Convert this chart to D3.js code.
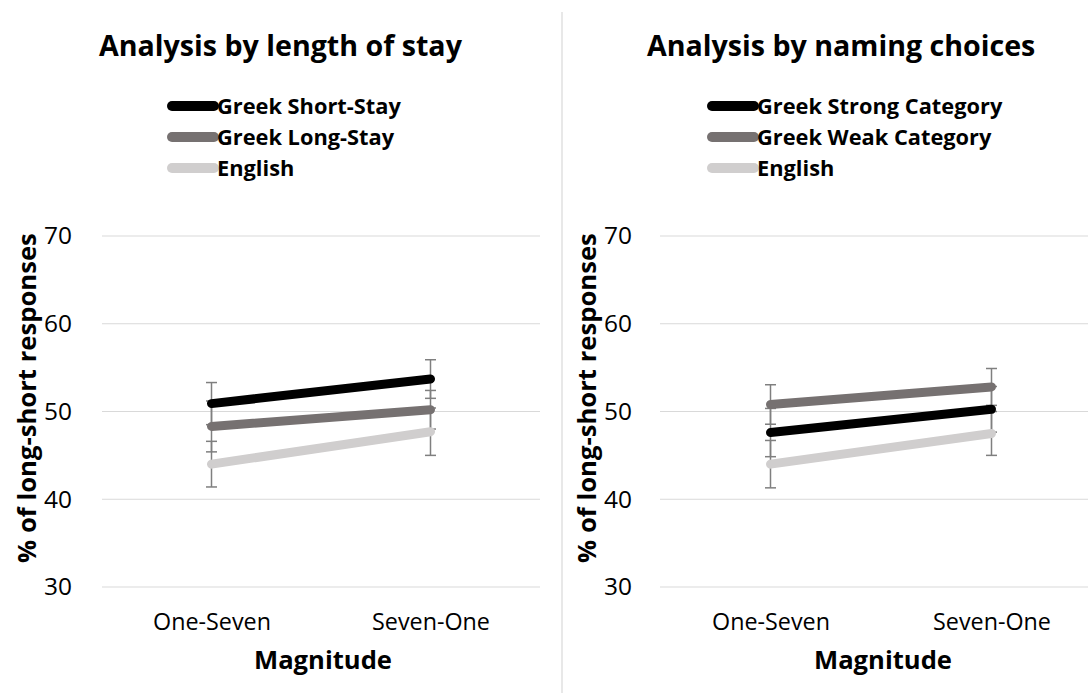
<!DOCTYPE html>
<html>
<head>
<meta charset="utf-8">
<script src="https://cdn.jsdelivr.net/npm/d3@7"></script>
<style>
  html, body { margin: 0; padding: 0; background: #fff; }
  svg { display: block; font-family: "Open Sans", "Lato", sans-serif; }
</style>
</head>
<body>
<svg id="chart" width="1088" height="693"></svg>
<script>
// ---------- data ----------
const categories = ["One-Seven", "Seven-One"];
const yTicks = [30, 40, 50, 60, 70];

const leftTitle = "Analysis by length of stay";
const leftNames = ["Greek Short-Stay", "Greek Long-Stay", "English"];
const leftShortStay = [50.9, 53.7];
const leftShortStayErr = [2.4, 2.2];
const leftLongStay = [48.3, 50.2];
const leftLongStayErr = [2.9, 2.2];
const leftEnglish = [44.0, 47.7];
const leftEnglishErr = [2.6, 2.7];

const rightTitle = "Analysis by naming choices";
const rightNames = ["Greek Strong Category", "Greek Weak Category", "English"];
const rightStrong = [47.6, 50.25];
const rightStrongErr = [2.75, 2.6];
const rightWeak = [50.8, 52.8];
const rightWeakErr = [2.25, 2.1];
const rightEnglish = [44.0, 47.5];
const rightEnglishErr = [2.7, 2.5];

const seriesColors = ["#000000", "#767171", "#d0cece"];

const yTitle = "% of long-short responses";
const xTitle = "Magnitude";

// ---------- helpers ----------
const svg = d3.select("#chart");
const FONT = "'Open Sans', Lato, sans-serif";

// find a font size such that the given text has the target width
function sizeFor(text, weight, targetWidth) {
  const t = svg.append("text").attr("font-family", FONT)
    .attr("font-weight", weight).attr("font-size", 100).text(text);
  const w = t.node().getComputedTextLength();
  t.remove();
  return 100 * targetWidth / w;
}
const titleSize = sizeFor(leftTitle, "bold", 363);
const legendSize = sizeFor(leftNames[0], "bold", 184);
const tickSize = sizeFor("70", "normal", 28);
const catSize = sizeFor(categories[0], "normal", 118);
const xTitleSize = sizeFor(xTitle, "bold", 138);
const yTitleSize = sizeFor(yTitle, "bold", 330);

// divider
svg.append("line")
  .attr("x1", 562).attr("x2", 562).attr("y1", 12).attr("y2", 693)
  .attr("stroke", "#d9d9d9").attr("stroke-width", 1.2);

function drawPanel(cfg) {
  const g = svg.append("g").attr("font-family", FONT);
  const x = d3.scalePoint().domain(categories).range([cfg.x0, cfg.x1]).padding(0.5);
  const y = d3.scaleLinear().domain([30, 70]).range([587, 236]);

  // title
  g.append("text")
    .attr("x", cfg.titleX).attr("y", 56)
    .attr("font-size", titleSize).attr("font-weight", "bold").attr("fill", "#000")
    .text(cfg.title);

  // gridlines
  g.selectAll(".grid").data(yTicks).enter().append("line")
    .attr("x1", cfg.x0).attr("x2", cfg.x1)
    .attr("y1", d => y(d)).attr("y2", d => y(d))
    .attr("stroke", "#d9d9d9").attr("stroke-width", 1.2);

  // y axis labels
  const yAxis = d3.axisLeft(y).tickValues(yTicks).tickSize(0).tickPadding(0);
  const ya = g.append("g").attr("transform", `translate(${cfg.tickX},0)`).call(yAxis);
  ya.select(".domain").remove();
  ya.selectAll("text").attr("font-size", tickSize).attr("fill", "#000")
    .attr("font-family", FONT);

  // y title
  g.append("text")
    .attr("transform", `translate(${cfg.yTitleX},398) rotate(-90)`)
    .attr("text-anchor", "middle").attr("dy", "0.35em")
    .attr("font-size", yTitleSize).attr("font-weight", "bold")
    .text(yTitle);

  // x axis labels
  const xAxis = d3.axisBottom(x).tickSize(0).tickPadding(0);
  const xa = g.append("g").attr("transform", "translate(0,630)").call(xAxis);
  xa.select(".domain").remove();
  xa.selectAll("text").attr("font-size", catSize).attr("fill", "#000")
    .attr("font-family", FONT).attr("y", 0).attr("dy", 0);

  // x title
  g.append("text")
    .attr("x", (cfg.x0 + cfg.x1) / 2 + 2).attr("y", 669)
    .attr("text-anchor", "middle")
    .attr("font-size", xTitleSize).attr("font-weight", "bold")
    .text(xTitle);

  // error bars
  cfg.series.forEach((s) => {
    s.values.forEach((v, i) => {
      const cx = x(categories[i]);
      const top = y(v + s.err[i]), bot = y(v - s.err[i]);
      g.append("line").attr("x1", cx).attr("x2", cx).attr("y1", top).attr("y2", bot)
        .attr("stroke", "#7f7f7f").attr("stroke-width", 1.5);
      [top, bot].forEach(yy => {
        g.append("line").attr("x1", cx - 5.5).attr("x2", cx + 5.5).attr("y1", yy).attr("y2", yy)
          .attr("stroke", "#7f7f7f").attr("stroke-width", 1.5);
      });
    });
  });

  // lines
  const line = d3.line().x((d, i) => x(categories[i])).y(d => y(d));
  cfg.series.slice().reverse().forEach((s) => {
    g.append("path").datum(s.values)
      .attr("d", line)
      .attr("fill", "none").attr("stroke", s.color)
      .attr("stroke-width", 9).attr("stroke-linecap", "round");
  });

  // legend
  cfg.series.forEach((s, i) => {
    const ly = 106 + i * 31;
    g.append("line")
      .attr("x1", cfg.legX).attr("x2", cfg.legX + 42)
      .attr("y1", ly).attr("y2", ly)
      .attr("stroke", s.color).attr("stroke-width", 10).attr("stroke-linecap", "round");
    g.append("text")
      .attr("x", cfg.legX + 45).attr("y", ly).attr("dy", "0.36em")
      .attr("font-size", legendSize).attr("font-weight", "bold")
      .text(s.name);
  });
}

drawPanel({
  title: leftTitle, titleX: 99,
  x0: 102, x1: 540, tickX: 72, yTitleX: 27, legX: 172,
  series: [
    { name: leftNames[0], values: leftShortStay, err: leftShortStayErr, color: seriesColors[0] },
    { name: leftNames[1], values: leftLongStay, err: leftLongStayErr, color: seriesColors[1] },
    { name: leftNames[2], values: leftEnglish, err: leftEnglishErr, color: seriesColors[2] }
  ]
});

drawPanel({
  title: rightTitle, titleX: 647,
  x0: 660, x1: 1102, tickX: 632, yTitleX: 587, legX: 712,
  series: [
    { name: rightNames[0], values: rightStrong, err: rightStrongErr, color: seriesColors[0] },
    { name: rightNames[1], values: rightWeak, err: rightWeakErr, color: seriesColors[1] },
    { name: rightNames[2], values: rightEnglish, err: rightEnglishErr, color: seriesColors[2] }
  ]
});
</script>
</body>
</html>
